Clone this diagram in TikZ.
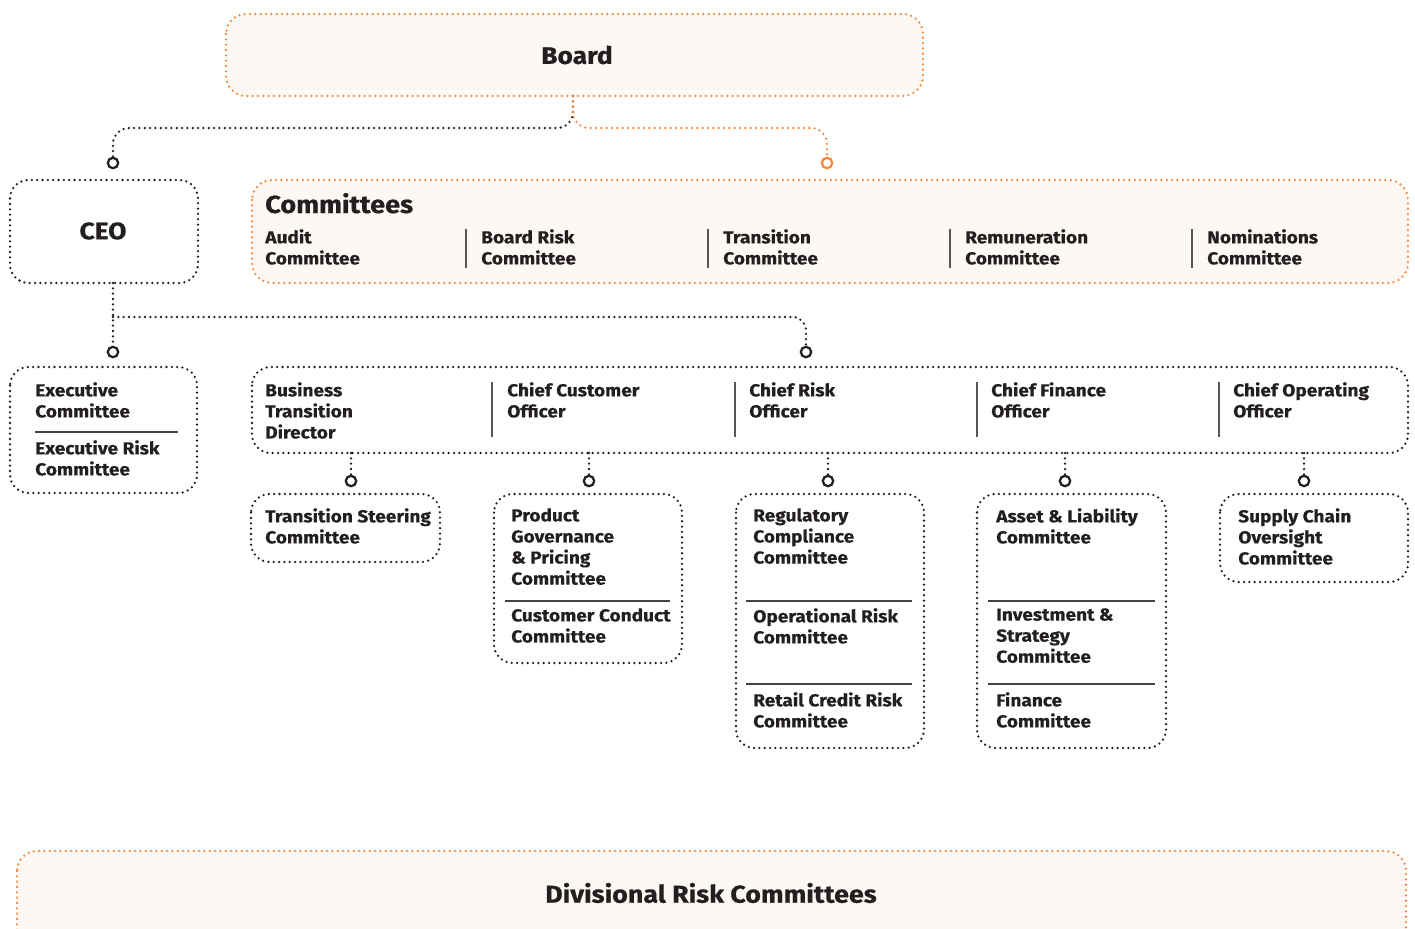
\documentclass[tikz,border=0pt]{standalone}
\usepackage{fontspec}
\setmainfont{Fira Sans}[BoldFeatures={FakeStretch=1.1,FakeBold=0.5}]
\definecolor{ink}{HTML}{231F20}
\definecolor{orng}{HTML}{F58A3C}
\definecolor{cream}{HTML}{FDF8F4}
\definecolor{sepgray}{HTML}{5A5657}
\begin{document}
\begin{tikzpicture}[x=0.75pt,y=-0.75pt,
  dotk/.style={draw=ink, line width=1.9pt, line cap=round, dash pattern=on 0pt off 4pt},
  doto/.style={draw=orng, line width=1.9pt, line cap=round, dash pattern=on 0pt off 4pt},
  boxk/.style={dotk, rounded corners=14pt},
  boxo/.style={doto, fill=cream, rounded corners=15pt},
  circk/.style={circle, draw=ink, fill=white, line width=1.7pt, minimum size=7.8pt, inner sep=0pt},
  circo/.style={circk, draw=orng},
  txt/.style={font=\fontsize{13}{15.8}\selectfont\bfseries, text=ink, align=left, inner sep=0pt, anchor=north west},
  sep/.style={draw=sepgray, line width=1pt},
  hsep/.style={draw=ink!85, line width=0.9pt}
]
\useasboundingbox (0,0) rectangle (1415,929);

% ---------- boxes ----------
\path[boxo] (226,14) rectangle (923,96);
\node[font=\fontsize{18}{20}\selectfont\bfseries, text=ink, inner sep=0pt] (board) at (577,55) {Board};
\coordinate (boardS) at (573,96);

\path[boxk] (10,180) rectangle (198,283);
\node[font=\fontsize{18}{20}\selectfont\bfseries, text=ink, inner sep=0pt] (ceo) at (103,231) {CEO};

\path[boxo] (252,180) rectangle (1408,283);
\node[font=\fontsize{18.5}{22}\selectfont\bfseries, text=ink, inner sep=0pt, anchor=base west] (comm) at (265,213) {Committees};
\node[txt] (c-audit) at (265,229) {Audit\\Committee};
\node[txt] (c-brc) at (481,229) {Board Risk\\Committee};
\node[txt] (c-trans) at (723,229) {Transition\\Committee};
\node[txt] (c-rem) at (965,229) {Remuneration\\Committee};
\node[txt] (c-nom) at (1207,229) {Nominations\\Committee};
\foreach \x in {466,708,950,1192} \draw[sep] (\x,229) -- (\x,268);

\path[boxk] (10,367) rectangle (197,493);
\node[txt] (exco) at (35,382) {Executive\\Committee};
\draw[hsep] (35,432) -- (178,432);
\node[txt] (erc) at (35,440) {Executive Risk\\Committee};

\path[boxk] (252,367) rectangle (1408,453);
\node[txt] (o-btd) at (265,382) {Business\\Transition\\Director};
\node[txt] (o-cco) at (507,382) {Chief Customer\\Officer};
\node[txt] (o-cro) at (749,382) {Chief Risk\\Officer};
\node[txt] (o-cfo) at (991,382) {Chief Finance\\Officer};
\node[txt] (o-coo) at (1233,382) {Chief Operating\\Officer};
\foreach \x in {492,735,977,1219} \draw[sep] (\x,382) -- (\x,437);
\coordinate (offS) at (700,453);

% sub boxes
\path[boxk] (251,494) rectangle (440,562);
\node[txt] (tsc) at (265,508) {Transition Steering\\Committee};

\path[boxk] (494,494) rectangle (682,663);
\node[txt] (pgp) at (511,508) {Product\\Governance\\\& Pricing\\Committee};
\draw[hsep] (505,601) -- (670,601);
\node[txt] (ccc) at (511,608) {Customer Conduct\\Committee};

\path[boxk] (736,494) rectangle (924,748);
\node[txt] (rcc) at (753,508) {Regulatory\\Compliance\\Committee};
\draw[hsep] (746,601) -- (912,601);
\node[txt] (orc) at (753,608) {Operational Risk\\Committee};
\draw[hsep] (746,684) -- (912,684);
\node[txt] (rcr) at (753,692) {Retail Credit Risk\\Committee};

\path[boxk] (977,494) rectangle (1166,748);
\node[txt] (alc) at (996,508) {Asset \& Liability\\Committee};
\draw[hsep] (988,601) -- (1155,601);
\node[txt] (isc) at (996,608) {Investment \&\\Strategy\\Committee};
\draw[hsep] (988,684) -- (1155,684);
\node[txt] (fc) at (996,692) {Finance\\Committee};

\path[boxk] (1220,494) rectangle (1408,582);
\node[txt] (scoc) at (1238,508) {Supply Chain\\Oversight\\Committee};

\path[boxo] (17,851) rectangle (1406,960);
\node[font=\fontsize{18.3}{20}\selectfont\bfseries, text=ink, inner sep=0pt] (drc) at (711,893) {Divisional Risk Committees};

% ---------- circles ----------
\node[circk] (k-ceo) at (113,163) {};
\node[circo] (k-comm) at (827,163) {};
\node[circk] (k-exec) at (113,352) {};
\node[circk] (k-off) at (806,352) {};
\node[circk] (k-tsc) at (351,481) {};
\node[circk] (k-pgp) at (589,481) {};
\node[circk] (k-rcc) at (828,481) {};
\node[circk] (k-alc) at (1065,481) {};
\node[circk] (k-sc) at (1304,481) {};

% ---------- connectors ----------
\coordinate (j1) at (573,128);
\draw[dotk, rounded corners=12pt] (boardS) -- (j1) -| (k-ceo.north);
\draw[doto, rounded corners=12pt] (boardS) -- (j1) -| (k-comm.north);
\coordinate (ceoS) at (113,283);
\coordinate (j2) at (113,317);
\draw[dotk] (ceoS) -- (k-exec.north);
\draw[dotk, rounded corners=10pt] (j2) -| (k-off.north);
\foreach \k in {k-tsc,k-pgp,k-rcc,k-alc,k-sc}
  \draw[dotk] (\k.north |- offS) -- (\k.north);
\end{tikzpicture}
\end{document}
